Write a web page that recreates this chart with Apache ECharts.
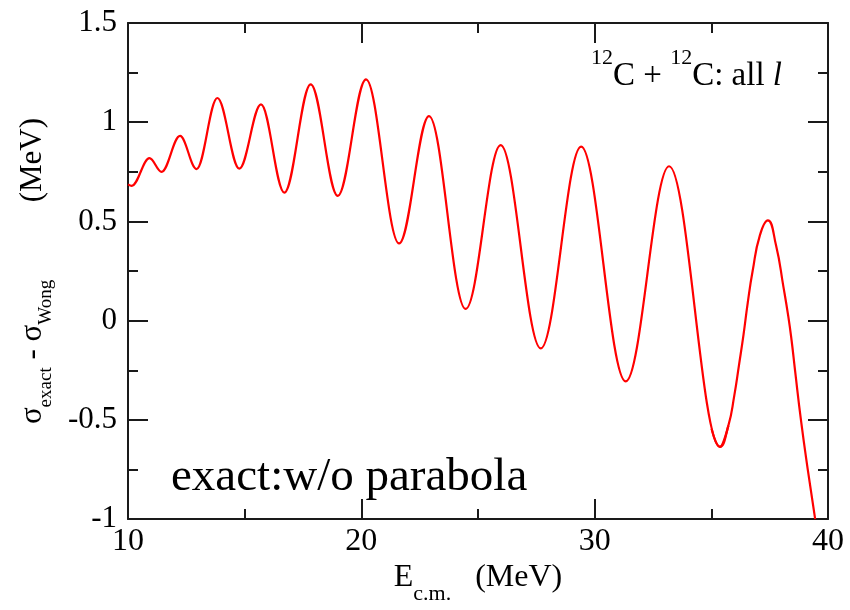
<!DOCTYPE html>
<html>
<head>
<meta charset="utf-8">
<script src="https://cdn.jsdelivr.net/npm/echarts@6/dist/echarts.min.js"></script>
<style>
html, body { margin: 0; padding: 0; background: #fff; }
#chart { width: 850px; height: 610px; }
</style>
</head>
<body>
<div id="chart"></div>
<script>
// turning points of the curve up to the last trough (E in MeV, difference in MeV)
const energy = [10, 10.16, 10.92, 11.44, 12.23, 12.94, 13.83, 14.77, 15.70, 16.70, 17.83, 18.99,
  20.20, 21.62, 22.90, 24.47, 25.97, 27.69, 29.42, 31.33, 33.19, 35.37, 35.73];
const diff = [0.687, 0.679, 0.819, 0.750, 0.931, 0.764, 1.122, 0.766, 1.090, 0.645, 1.191, 0.629,
  1.216, 0.389, 1.031, 0.059, 0.885, -0.140, 0.877, -0.306, 0.778, -0.636, -0.529];

// last rise and fall, read point by point
const tailEnergy = [35.01, 35.37, 35.73, 35.98, 36.19, 36.38, 36.56, 36.77, 37.08, 37.42,
  37.77, 38.09, 38.30, 38.44, 38.59, 38.84, 39.13, 39.45];
const tailDiff = [-0.545, -0.636, -0.529, -0.38, -0.22, -0.07, 0.09, 0.25, 0.43, 0.505,
  0.381, 0.17, 0.02, -0.10, -0.253, -0.5, -0.748, -1.0];

const xTicks = [10, 20, 30, 40];
const yTicks = [-1, -0.5, 0, 0.5, 1, 1.5];

const serif = 'Liberation Serif';
const ink = '#1a1a1a';

function xAxisOpt(pos, labels) {
  return {
    type: 'value', position: pos,
    min: xTicks[0], max: xTicks[xTicks.length - 1], interval: xTicks[1] - xTicks[0],
    axisLine: { show: true, onZero: false, lineStyle: { color: ink, width: 2 } },
    axisTick: { show: true, inside: true, length: 20, lineStyle: { color: ink, width: 2 } },
    minorTick: { show: true, splitNumber: 2, length: 10, lineStyle: { color: ink, width: 2 } },
    splitLine: { show: false },
    axisLabel: { show: labels, margin: 6, fontFamily: serif, fontSize: 32, color: '#000' }
  };
}

function yAxisOpt(pos, labels) {
  return {
    type: 'value', position: pos,
    min: yTicks[0], max: yTicks[yTicks.length - 1], interval: yTicks[1] - yTicks[0],
    axisLine: { show: true, onZero: false, lineStyle: { color: ink, width: 2 } },
    axisTick: { show: true, inside: true, length: 20, lineStyle: { color: ink, width: 2 } },
    minorTick: { show: true, splitNumber: 2, length: 10, lineStyle: { color: ink, width: 2 } },
    splitLine: { show: false },
    axisLabel: { show: labels, margin: 11, fontFamily: serif, fontSize: 31, color: '#000' }
  };
}

const xBottom = xAxisOpt('bottom', true);
xBottom.name = '{m|E}{s|c.m.}{m|   (MeV)}';
xBottom.nameLocation = 'middle';
xBottom.nameGap = 28;
xBottom.nameTextStyle = {
  color: '#000', fontFamily: serif, fontSize: 32,
  rich: {
    m: { color: '#000', fontFamily: serif, fontSize: 32, lineHeight: 54 },
    s: { color: '#000', fontFamily: serif, fontSize: 22, lineHeight: 22, verticalAlign: 'bottom' }
  }
};

const yLeft = yAxisOpt('left', true);
yLeft.name = '{m|σ}{s|exact}{m| - σ}{s|Wong}{m|          (MeV)}';
yLeft.nameLocation = 'middle';
yLeft.nameRotate = 90;
yLeft.nameGap = 72;
yLeft.nameTextStyle = {
  color: '#000', fontFamily: serif, fontSize: 31,
  rich: {
    m: { color: '#000', fontFamily: serif, fontSize: 31, lineHeight: 47 },
    s: { color: '#000', fontFamily: serif, fontSize: 19, lineHeight: 19, verticalAlign: 'bottom' }
  }
};

const chart = echarts.init(document.getElementById('chart'), null, { renderer: 'canvas' });

chart.setOption({
  animation: false,
  backgroundColor: '#fff',
  grid: { left: 128, right: 22, top: 23, bottom: 83, containLabel: false },
  xAxis: [xBottom, xAxisOpt('top', false)],
  yAxis: [yLeft, yAxisOpt('right', false)],
  series: [
    {
      type: 'line',
      data: energy.map((e, i) => [e, diff[i]]),
      smooth: 0.36,
      smoothMonotone: 'x',
      symbol: 'none',
      lineStyle: { color: '#ff0000', width: 2.2 },
      silent: true
    },
    {
      type: 'line',
      data: tailEnergy.map((e, i) => [e, tailDiff[i]]),
      smooth: 0.5,
      symbol: 'none',
      lineStyle: { color: '#ff0000', width: 2.2 },
      silent: true
    }
  ],
  graphic: [
    {
      type: 'text', x: 782, y: 76, silent: true,
      style: {
        text: '{sup|12}{m|C + }{sup|12}{m|C: all }{it|l}',
        align: 'right', verticalAlign: 'middle',
        rich: {
          m: { fill: '#000', fontFamily: serif, fontSize: 33, lineHeight: 58 },
          it: { fill: '#000', fontFamily: serif, fontSize: 33, fontStyle: 'italic', lineHeight: 58 },
          sup: { fill: '#000', fontFamily: serif, fontSize: 22, lineHeight: 22, verticalAlign: 'top' }
        }
      }
    },
    {
      type: 'text', x: 171, y: 478, silent: true,
      style: {
        text: 'exact:w/o parabola',
        font: '47px "Liberation Serif"', fill: '#000',
        align: 'left', verticalAlign: 'middle'
      }
    }
  ]
});
</script>
</body>
</html>
